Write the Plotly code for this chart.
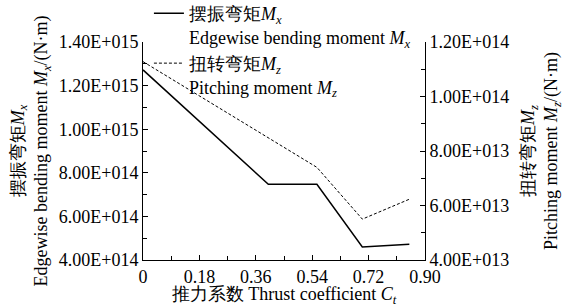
import plotly.graph_objects as go

# Data
ct_mx = [0.0, 0.40, 0.555, 0.70, 0.85]
mx_values = [1.272e15, 7.47e14, 7.47e14, 4.60e14, 4.72e14]

ct_mz = [0.0, 0.555, 0.70, 0.85]
mz_values = [1.128e14, 7.40e13, 5.50e13, 6.23e13]

x_tick_vals = [0, 0.18, 0.36, 0.54, 0.72, 0.90]
x_tick_text = ["0", "0.18", "0.36", "0.54", "0.72", "0.90"]
y1_tick_vals = [4e14, 6e14, 8e14, 1.0e15, 1.2e15, 1.4e15]
y1_tick_text = ["4.00E+014", "6.00E+014", "8.00E+014", "1.00E+015", "1.20E+015", "1.40E+015"]
y2_tick_vals = [4e13, 6e13, 8e13, 1.0e14, 1.2e14]
y2_tick_text = ["4.00E+013", "6.00E+013", "8.00E+013", "1.00E+014", "1.20E+014"]

FONT = "Liberation Serif"

fig = go.Figure()
fig.add_trace(go.Scatter(
    x=ct_mx, y=mx_values, mode="lines",
    line=dict(color="black", width=1.5),
    name="摆振弯矩<i>M</i><sub><i>x</i></sub><br>Edgewise bending moment <i>M</i><sub><i>x</i></sub>",
))
fig.add_trace(go.Scatter(
    x=ct_mz, y=mz_values, mode="lines", yaxis="y2",
    line=dict(color="black", width=1, dash="3px,2px"),
    name="扭转弯矩<i>M</i><sub><i>z</i></sub><br>Pitching moment <i>M</i><sub><i>z</i></sub>",
))

axis_common = dict(
    showline=True, linecolor="black", linewidth=1,
    ticks="inside", ticklen=5, tickcolor="black", tickwidth=1,
    showgrid=False, zeroline=False,
    tickfont=dict(family=FONT, size=18, color="black"),
)

fig.update_layout(
    width=564, height=307,
    margin=dict(l=143, r=139, t=42, b=47, autoexpand=False),
    paper_bgcolor="white", plot_bgcolor="white",
    font=dict(family=FONT, size=18, color="black"),
    showlegend=True,
    legend=dict(
        x=0.021, y=1.215, xanchor="left", yanchor="top",
        bgcolor="rgba(0,0,0,0)", borderwidth=0,
        font=dict(family=FONT, size=18, color="black"),
        valign="top", tracegroupgap=0, itemwidth=30,
    ),
    xaxis=dict(
        range=[0, 0.9], tickvals=x_tick_vals, ticktext=x_tick_text,
        minor=dict(dtick=0.09, ticks="inside", ticklen=4, tickcolor="black"),
        title=dict(text="推力系数 Thrust coefficient <i>C</i><sub><i>t</i></sub>",
                   font=dict(family=FONT, size=18), standoff=1),
        **axis_common,
    ),
    yaxis=dict(
        range=[4e14, 1.4e15], tickvals=y1_tick_vals, ticktext=y1_tick_text,
        minor=dict(dtick=1e14, ticks="inside", ticklen=4, tickcolor="black"),
        title=dict(text="摆振弯矩<i>M</i><sub><i>x</i></sub><br>Edgewise bending moment <i>M</i><sub><i>x</i></sub>/(N·m)",
                   font=dict(family=FONT, size=18), standoff=6),
        **axis_common,
    ),
    yaxis2=dict(
        range=[4e13, 1.2e14], tickvals=y2_tick_vals, ticktext=y2_tick_text,
        overlaying="y", side="right",
        minor=dict(dtick=1e13, ticks="inside", ticklen=4, tickcolor="black"),
        title=dict(text="扭转弯矩<i>M</i><sub><i>z</i></sub><br>Pitching moment <i>M</i><sub><i>z</i></sub>/(N·m)",
                   font=dict(family=FONT, size=18), standoff=14),
        **axis_common,
    ),
)

fig.write_html("out.html", post_script="document.body.style.margin='0px';",
               config={"displayModeBar": False})
